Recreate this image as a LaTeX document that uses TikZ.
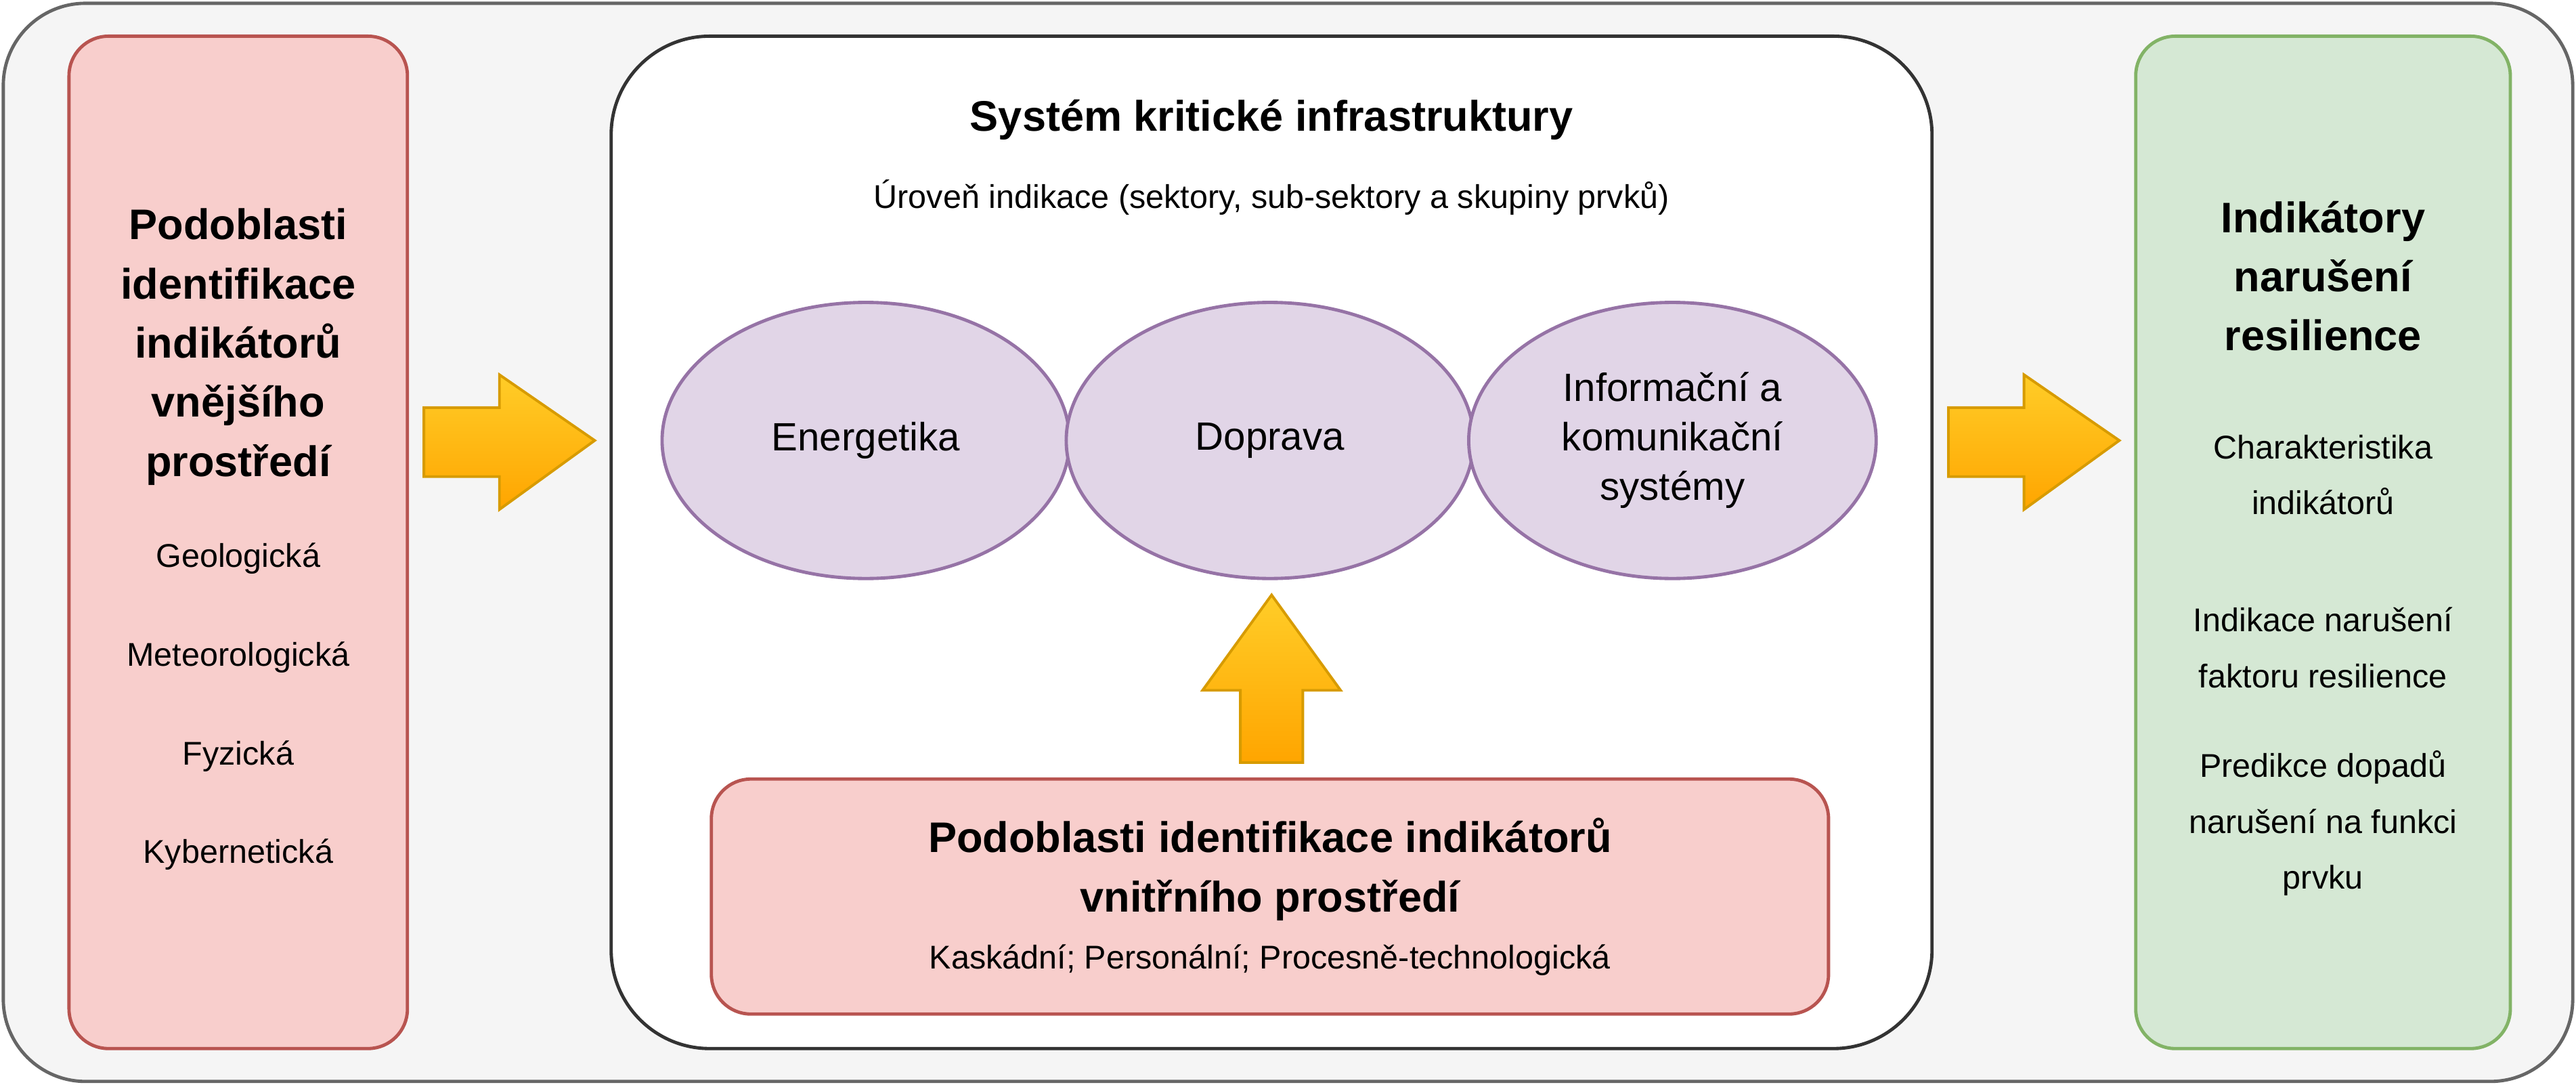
\documentclass[tikz,border=0pt]{standalone}
\usepackage{fontspec}
\setmainfont{Liberation Sans}
\usetikzlibrary{positioning}
\definecolor{redfill}{HTML}{F8CECC}
\definecolor{reddraw}{HTML}{B85450}
\definecolor{greenfill}{HTML}{D5E8D4}
\definecolor{greendraw}{HTML}{82B366}
\definecolor{violetfill}{HTML}{E1D5E7}
\definecolor{violetdraw}{HTML}{9673A6}
\definecolor{arrowdraw}{HTML}{D79B00}
\definecolor{arrowtop}{HTML}{FFCD28}
\definecolor{arrowbot}{HTML}{FFA500}
\tikzset{
  panel/.style={draw,line width=1pt,rounded corners=12pt},
  sector/.style={ellipse,draw=violetdraw,fill=violetfill,line width=1pt,
    minimum width=124pt,minimum height=84pt,align=center,font=\fontsize{12}{15}\selectfont},
  bigarrow/.style={draw=arrowdraw,line width=0.8pt,top color=arrowtop,bottom color=arrowbot},
  head/.style={font=\bfseries\fontsize{13}{18}\selectfont,align=center},
  item/.style={font=\fontsize{10}{17}\selectfont,align=center}
}
\usetikzlibrary{shapes.geometric}
\begin{document}
\begin{tikzpicture}[x=0.5pt,y=-0.5pt]
\useasboundingbox (0,0) rectangle (1568,661);
%frame
  \draw[panel,draw=black!60,fill=black!4,rounded corners=25pt] (2,2) rectangle (1566,658);
%left
  \draw[panel,draw=reddraw,fill=redfill] (42,22) rectangle (248,638);
  \node[head] (lefthead) at (145,211) {Podoblasti\\identifikace\\indikátorů\\vnějšího\\prostředí};
  \node[item] (geo) at (145,340) {Geologická};
  \node[item] (met) at (145,400) {Meteorologická};
  \node[item] (fyz) at (145,460) {Fyzická};
  \node[item] (kyb) at (145,520) {Kybernetická};
%centre
  \draw[panel,draw=black!80,fill=white,rounded corners=30pt] (372,22) rectangle (1176,638);
  \node[head] (systitle) at (774,73) {Systém kritické infrastruktury};
  \node[item] (level) at (774,120) {Úroveň indikace (sektory, sub-sektory a skupiny prvků)};
  \node[sector] (energ) at (527,268) {Energetika};
  \node[sector] (dopr) at (773,268) {Doprava};
  \node[sector] (ikt) at (1018,268) {Informační a\\komunikační\\systémy};
  \draw[panel,draw=reddraw,fill=redfill] (433,474) rectangle (1113,617);
  \node[head] (innerhead) at (773,529) {Podoblasti identifikace indikátorů\\vnitřního prostředí};
  \node[item] (inneritems) at (773,584) {Kaskádní; Personální; Procesně-technologická};
%right
  \draw[panel,draw=greendraw,fill=greenfill] (1300,22) rectangle (1528,638);
  \node[head] (righthead) at (1414,168) {Indikátory\\narušení\\resilience};
  \node[item] (charak) at (1414,289) {Charakteristika\\indikátorů};
  \node[item] (indik) at (1414,394) {Indikace narušení\\faktoru resilience};
  \node[item] (pred) at (1414,501) {Predikce dopadů\\narušení na funkci\\prvku};
%arrows
  \draw[bigarrow] (258,248) -- (304,248) -- (304,228) -- (362,268) -- (304,310) -- (304,290) -- (258,290) -- cycle;
  \draw[bigarrow] (1186,248) -- (1232,248) -- (1232,228) -- (1290,268) -- (1232,310) -- (1232,290) -- (1186,290) -- cycle;
  \draw[bigarrow] (755,464) -- (755,420) -- (732,420) -- (774,362) -- (816,420) -- (793,420) -- (793,464) -- cycle;
\end{tikzpicture}
\end{document}
